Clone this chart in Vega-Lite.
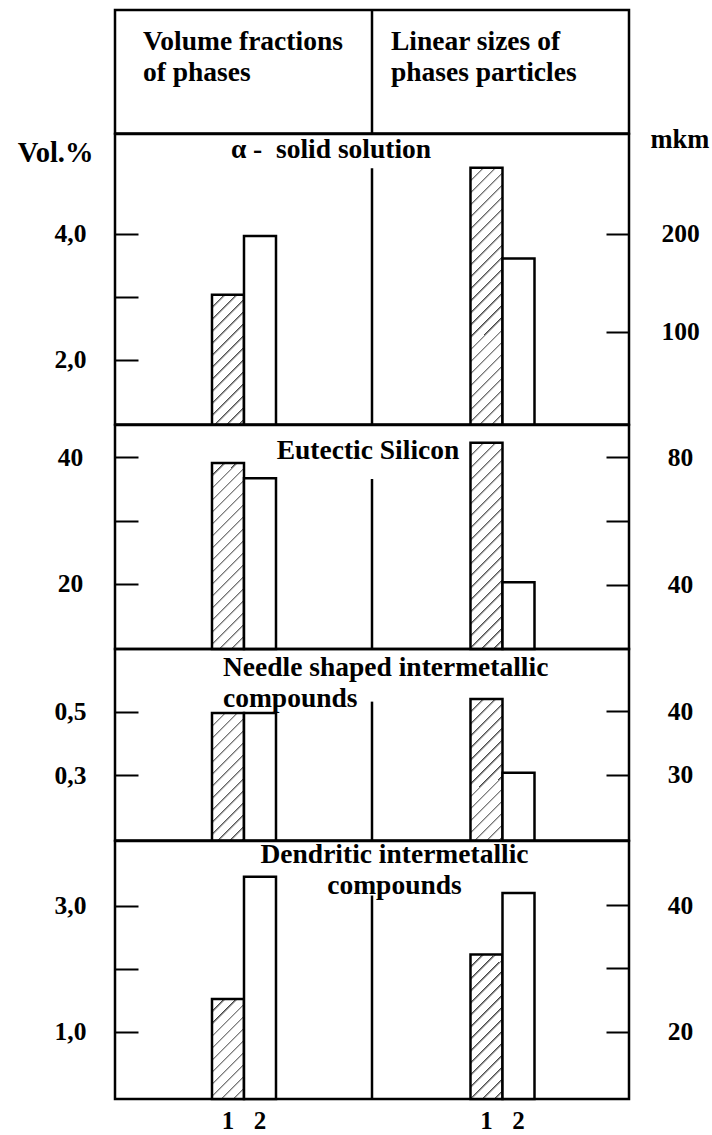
{
  "$schema": "https://vega.github.io/schema/vega-lite/v6.json",
  "padding": {"left": 15, "top": 7, "right": 0, "bottom": 0},
  "bounds": "flush",
  "spacing": 0,
  "params": [
    {"name": "hatch", "value": [
      {"offset": 0, "color": "#444"}, {"offset": 0.01, "color": "#fff"}, {"offset": 0.04, "color": "#fff"},
      {"offset": 0.04, "color": "#444"}, {"offset": 0.05, "color": "#fff"}, {"offset": 0.08, "color": "#fff"},
      {"offset": 0.08, "color": "#444"}, {"offset": 0.09, "color": "#fff"}, {"offset": 0.12, "color": "#fff"},
      {"offset": 0.12, "color": "#444"}, {"offset": 0.13, "color": "#fff"}, {"offset": 0.16, "color": "#fff"},
      {"offset": 0.16, "color": "#444"}, {"offset": 0.17, "color": "#fff"}, {"offset": 0.2, "color": "#fff"},
      {"offset": 0.2, "color": "#444"}, {"offset": 0.21, "color": "#fff"}, {"offset": 0.24, "color": "#fff"},
      {"offset": 0.24, "color": "#444"}, {"offset": 0.25, "color": "#fff"}, {"offset": 0.28, "color": "#fff"},
      {"offset": 0.28, "color": "#444"}, {"offset": 0.29, "color": "#fff"}, {"offset": 0.32, "color": "#fff"},
      {"offset": 0.32, "color": "#444"}, {"offset": 0.33, "color": "#fff"}, {"offset": 0.36, "color": "#fff"},
      {"offset": 0.36, "color": "#444"}, {"offset": 0.37, "color": "#fff"}, {"offset": 0.4, "color": "#fff"},
      {"offset": 0.4, "color": "#444"}, {"offset": 0.41, "color": "#fff"}, {"offset": 0.44, "color": "#fff"},
      {"offset": 0.44, "color": "#444"}, {"offset": 0.45, "color": "#fff"}, {"offset": 0.48, "color": "#fff"},
      {"offset": 0.48, "color": "#444"}, {"offset": 0.49, "color": "#fff"}, {"offset": 0.52, "color": "#fff"},
      {"offset": 0.52, "color": "#444"}, {"offset": 0.53, "color": "#fff"}, {"offset": 0.56, "color": "#fff"},
      {"offset": 0.56, "color": "#444"}, {"offset": 0.57, "color": "#fff"}, {"offset": 0.6, "color": "#fff"},
      {"offset": 0.6, "color": "#444"}, {"offset": 0.61, "color": "#fff"}, {"offset": 0.64, "color": "#fff"},
      {"offset": 0.64, "color": "#444"}, {"offset": 0.65, "color": "#fff"}, {"offset": 0.68, "color": "#fff"},
      {"offset": 0.68, "color": "#444"}, {"offset": 0.69, "color": "#fff"}, {"offset": 0.72, "color": "#fff"},
      {"offset": 0.72, "color": "#444"}, {"offset": 0.73, "color": "#fff"}, {"offset": 0.76, "color": "#fff"},
      {"offset": 0.76, "color": "#444"}, {"offset": 0.77, "color": "#fff"}, {"offset": 0.8, "color": "#fff"},
      {"offset": 0.8, "color": "#444"}, {"offset": 0.81, "color": "#fff"}, {"offset": 0.84, "color": "#fff"},
      {"offset": 0.84, "color": "#444"}, {"offset": 0.85, "color": "#fff"}, {"offset": 0.88, "color": "#fff"},
      {"offset": 0.88, "color": "#444"}, {"offset": 0.89, "color": "#fff"}, {"offset": 0.92, "color": "#fff"},
      {"offset": 0.92, "color": "#444"}, {"offset": 0.93, "color": "#fff"}, {"offset": 0.96, "color": "#fff"},
      {"offset": 0.96, "color": "#444"}, {"offset": 0.97, "color": "#fff"}, {"offset": 1, "color": "#fff"}
    ]}
  ],
  "datasets": {
    "bars": [
      {"phase": "alpha", "side": "L", "sample": "1", "value": 3.03},
      {"phase": "alpha", "side": "L", "sample": "2", "value": 3.96},
      {"phase": "alpha", "side": "R", "sample": "1", "value": 267.6},
      {"phase": "alpha", "side": "R", "sample": "2", "value": 174.8},
      {"phase": "eut", "side": "L", "sample": "1", "value": 39.1},
      {"phase": "eut", "side": "L", "sample": "2", "value": 36.7},
      {"phase": "eut", "side": "R", "sample": "1", "value": 84.6},
      {"phase": "eut", "side": "R", "sample": "2", "value": 40.7},
      {"phase": "needle", "side": "L", "sample": "1", "value": 0.496},
      {"phase": "needle", "side": "L", "sample": "2", "value": 0.496},
      {"phase": "needle", "side": "R", "sample": "1", "value": 41.9},
      {"phase": "needle", "side": "R", "sample": "2", "value": 30.3},
      {"phase": "dend", "side": "L", "sample": "1", "value": 1.52},
      {"phase": "dend", "side": "L", "sample": "2", "value": 3.46},
      {"phase": "dend", "side": "R", "sample": "1", "value": 32.2},
      {"phase": "dend", "side": "R", "sample": "2", "value": 41.9}
    ]
  },
  "vconcat": [
    {
      "width": 514, "height": 123.5,
      "layer": [
        {
          "data": {"values": [{"side": "L", "label": ["Volume fractions", "of phases"]}]},
          "mark": {"type": "text", "align": "left", "baseline": "alphabetic", "dx": 28, "dy": -21.3, "font": "Liberation Serif", "fontWeight": "bold", "fontSize": 27.5, "lineHeight": 31, "color": "black"},
          "encoding": {
            "x": {"field": "side", "type": "nominal", "bandPosition": 0, "scale": {"domain": ["L", "R"], "paddingInner": 0, "paddingOuter": 0}, "axis": null},
            "text": {"field": "label"}
          }
        },
        {
          "data": {"values": [{"side": "R", "label": ["Linear sizes of", "phases particles"]}]},
          "mark": {"type": "text", "align": "left", "baseline": "alphabetic", "dx": 19, "dy": -21.3, "font": "Liberation Serif", "fontWeight": "bold", "fontSize": 27.5, "lineHeight": 31, "color": "black"},
          "encoding": {
            "x": {"field": "side", "type": "nominal", "bandPosition": 0, "scale": {"domain": ["L", "R"], "paddingInner": 0, "paddingOuter": 0}, "axis": null},
            "text": {"field": "label"}
          }
        },
        {
          "data": {"values": [{}]},
          "mark": {"type": "rule", "stroke": "black", "strokeWidth": 2.5},
          "encoding": {
            "x": {"datum": "R", "type": "nominal", "bandPosition": 0, "scale": {"domain": ["L", "R"], "paddingInner": 0, "paddingOuter": 0}, "axis": null}
          }
        }
      ]
    },
    {
      "width": 514, "height": 290.5,
      "title": {"text": "α - \u00a0solid solution", "anchor": "middle", "dx": -41, "offset": -37.6},
      "layer": [
        {
          "data": {"name": "bars"},
          "transform": [{"filter": "datum.phase == 'alpha' && datum.side == 'L'"}],
          "mark": {"type": "bar", "stroke": "black", "strokeWidth": 2.5, "fill": {"expr": "datum.sample == '1' ? {gradient: 'linear', x1: 0, y1: 0, x2: 0.5365, y2: 2.1795, stops: hatch} : 'white'"}},
          "encoding": {
            "x": {"field": "side", "type": "nominal", "scale": {"domain": ["L", "R"], "paddingInner": 0.7524, "paddingOuter": 0.3704, "align": 0.5065}, "axis": null},
            "xOffset": {"field": "sample", "type": "nominal", "scale": {"domain": ["1", "2"], "paddingInner": 0, "paddingOuter": 0}},
            "y": {"field": "value", "type": "quantitative", "scale": {"domain": [0.97, 5.58], "zero": false, "nice": false},
              "axis": {"orient": "left", "values": [2, 3, 4], "labelExpr": "datum.value == 3 ? '' : replace(format(datum.value, '.1f'), '.', ',')", "title": "Vol.%", "titleFontSize": 28.5, "titleAngle": 0, "titleX": -22, "titleY": 27, "titleAlign": "right", "titleBaseline": "alphabetic"}},
            "y2": {"datum": 0.97}
          }
        },
        {
          "data": {"name": "bars"},
          "transform": [{"filter": "datum.phase == 'alpha' && datum.side == 'R'"}],
          "mark": {"type": "bar", "stroke": "black", "strokeWidth": 2.5, "fill": {"expr": "datum.sample == '1' ? {gradient: 'linear', x1: 0, y1: 0, x2: 0.1445, y2: 1.1558, stops: hatch} : 'white'"}},
          "encoding": {
            "x": {"field": "side", "type": "nominal", "scale": {"domain": ["L", "R"], "paddingInner": 0.7524, "paddingOuter": 0.3704, "align": 0.5065}, "axis": null},
            "xOffset": {"field": "sample", "type": "nominal", "scale": {"domain": ["1", "2"], "paddingInner": 0, "paddingOuter": 0}},
            "y": {"field": "value", "type": "quantitative", "scale": {"domain": [5, 302], "zero": false, "nice": false},
              "axis": {"orient": "right", "values": [100, 200], "format": "d", "title": "mkm", "titleAngle": 0, "titleX": 21, "titleY": 13, "titleAlign": "left", "titleBaseline": "alphabetic"}},
            "y2": {"datum": 5}
          }
        },
        {
          "data": {"values": [{}]},
          "mark": {"type": "rule", "stroke": "black", "strokeWidth": 2.5},
          "encoding": {
            "x": {"datum": "R", "type": "nominal", "bandPosition": 0, "scale": {"domain": ["L", "R"], "paddingInner": 0, "paddingOuter": 0}, "axis": null},
            "y": {"datum": 267, "type": "quantitative", "scale": {"domain": [5, 302], "zero": false, "nice": false}, "axis": null},
            "y2": {"datum": 5}
          }
        }
      ],
      "resolve": {"scale": {"x": "independent", "y": "independent"}, "axis": {"y": "independent"}}
    },
    {
      "width": 514, "height": 224,
      "title": {"text": "Eutectic Silicon", "anchor": "middle", "dx": -4, "offset": -39.6},
      "layer": [
        {
          "data": {"name": "bars"},
          "transform": [{"filter": "datum.phase == 'eut' && datum.side == 'L'"}],
          "mark": {"type": "bar", "stroke": "black", "strokeWidth": 2.5, "fill": {"expr": "datum.sample == '1' ? {gradient: 'linear', x1: 0, y1: 0, x2: 0.27, y2: 1.5692, stops: hatch} : 'white'"}},
          "encoding": {
            "x": {"field": "side", "type": "nominal", "scale": {"domain": ["L", "R"], "paddingInner": 0.7524, "paddingOuter": 0.3704, "align": 0.5065}, "axis": null},
            "xOffset": {"field": "sample", "type": "nominal", "scale": {"domain": ["1", "2"], "paddingInner": 0, "paddingOuter": 0}},
            "y": {"field": "value", "type": "quantitative", "scale": {"domain": [9.7, 45.1], "zero": false, "nice": false},
              "axis": {"orient": "left", "values": [20, 30, 40], "labelExpr": "datum.value == 30 ? '' : datum.label", "title": null}},
            "y2": {"datum": 9.7}
          }
        },
        {
          "data": {"name": "bars"},
          "transform": [{"filter": "datum.phase == 'eut' && datum.side == 'R'"}],
          "mark": {"type": "bar", "stroke": "black", "strokeWidth": 2.5, "fill": {"expr": "datum.sample == '1' ? {gradient: 'linear', x1: 0, y1: 0, x2: 0.2213, y2: 1.4244, stops: hatch} : 'white'"}},
          "encoding": {
            "x": {"field": "side", "type": "nominal", "scale": {"domain": ["L", "R"], "paddingInner": 0.7524, "paddingOuter": 0.3704, "align": 0.5065}, "axis": null},
            "xOffset": {"field": "sample", "type": "nominal", "scale": {"domain": ["1", "2"], "paddingInner": 0, "paddingOuter": 0}},
            "y": {"field": "value", "type": "quantitative", "scale": {"domain": [19.7, 90.2], "zero": false, "nice": false},
              "axis": {"orient": "right", "values": [40, 60, 80], "labelExpr": "datum.value == 60 ? '' : datum.label", "title": null}},
            "y2": {"datum": 19.7}
          }
        },
        {
          "data": {"values": [{}]},
          "mark": {"type": "rule", "stroke": "black", "strokeWidth": 2.5},
          "encoding": {
            "x": {"datum": "R", "type": "nominal", "bandPosition": 0, "scale": {"domain": ["L", "R"], "paddingInner": 0, "paddingOuter": 0}, "axis": null},
            "y": {"datum": 73.2, "type": "quantitative", "scale": {"domain": [19.7, 90.2], "zero": false, "nice": false}, "axis": null},
            "y2": {"datum": 19.7}
          }
        }
      ],
      "resolve": {"scale": {"x": "independent", "y": "independent"}, "axis": {"y": "independent"}}
    },
    {
      "width": 514, "height": 191.5,
      "title": {"text": ["Needle shaped intermetallic", "compounds"], "anchor": "start", "dx": 108, "offset": -63.9},
      "layer": [
        {
          "data": {"name": "bars"},
          "transform": [{"filter": "datum.phase == 'needle' && datum.side == 'L'"}],
          "mark": {"type": "bar", "stroke": "black", "strokeWidth": 2.5, "fill": {"expr": "datum.sample == '1' ? {gradient: 'linear', x1: 0, y1: 0, x2: 0.5606, y2: 2.2249, stops: hatch} : 'white'"}},
          "encoding": {
            "x": {"field": "side", "type": "nominal", "scale": {"domain": ["L", "R"], "paddingInner": 0.7524, "paddingOuter": 0.3704, "align": 0.5065}, "axis": null},
            "xOffset": {"field": "sample", "type": "nominal", "scale": {"domain": ["1", "2"], "paddingInner": 0, "paddingOuter": 0}},
            "y": {"field": "value", "type": "quantitative", "scale": {"domain": [0.096, 0.697], "zero": false, "nice": false},
              "axis": {"orient": "left", "values": [0.3, 0.5], "labelExpr": "replace(format(datum.value, '.1f'), '.', ',')", "title": null}},
            "y2": {"datum": 0.096}
          }
        },
        {
          "data": {"name": "bars"},
          "transform": [{"filter": "datum.phase == 'needle' && datum.side == 'R'"}],
          "mark": {"type": "bar", "stroke": "black", "strokeWidth": 2.5, "fill": {"expr": "datum.sample == '1' ? {gradient: 'linear', x1: 0, y1: 0, x2: 0.46, y2: 2.0268, stops: hatch} : 'white'"}},
          "encoding": {
            "x": {"field": "side", "type": "nominal", "scale": {"domain": ["L", "R"], "paddingInner": 0.7524, "paddingOuter": 0.3704, "align": 0.5065}, "axis": null},
            "xOffset": {"field": "sample", "type": "nominal", "scale": {"domain": ["1", "2"], "paddingInner": 0, "paddingOuter": 0}},
            "y": {"field": "value", "type": "quantitative", "scale": {"domain": [19.6, 49.8], "zero": false, "nice": false},
              "axis": {"orient": "right", "values": [30, 40], "title": null}},
            "y2": {"datum": 19.6}
          }
        },
        {
          "data": {"values": [{}]},
          "mark": {"type": "rule", "stroke": "black", "strokeWidth": 2.5},
          "encoding": {
            "x": {"datum": "R", "type": "nominal", "bandPosition": 0, "scale": {"domain": ["L", "R"], "paddingInner": 0, "paddingOuter": 0}, "axis": null},
            "y": {"datum": 41.5, "type": "quantitative", "scale": {"domain": [19.6, 49.8], "zero": false, "nice": false}, "axis": null},
            "y2": {"datum": 19.6}
          }
        }
      ],
      "resolve": {"scale": {"x": "independent", "y": "independent"}, "axis": {"y": "independent"}}
    },
    {
      "width": 514, "height": 258,
      "title": {"text": ["Dendritic intermetallic", "compounds"], "anchor": "middle", "dx": 22.5, "offset": -58.6},
      "layer": [
        {
          "data": {"name": "bars"},
          "transform": [{"filter": "datum.phase == 'dend' && datum.side == 'L'"}],
          "mark": {"type": "bar", "stroke": "black", "strokeWidth": 2.5, "fill": {"expr": "datum.sample == '1' ? {gradient: 'linear', x1: 0, y1: 0, x2: 0.8723, y2: 2.7259, stops: hatch} : 'white'"}},
          "encoding": {
            "x": {"field": "side", "type": "nominal", "scale": {"domain": ["L", "R"], "paddingInner": 0.7524, "paddingOuter": 0.3704, "align": 0.5065}, "axis": null},
            "xOffset": {"field": "sample", "type": "nominal", "scale": {"domain": ["1", "2"], "paddingInner": 0, "paddingOuter": 0}},
            "y": {"field": "value", "type": "quantitative", "scale": {"domain": [-0.07, 4.03], "zero": false, "nice": false},
              "axis": {"orient": "left", "values": [1, 2, 3], "labelExpr": "datum.value == 2 ? '' : replace(format(datum.value, '.1f'), '.', ',')", "title": null}},
            "y2": {"datum": -0.07}
          }
        },
        {
          "data": {"name": "bars"},
          "transform": [{"filter": "datum.phase == 'dend' && datum.side == 'R'"}],
          "mark": {"type": "bar", "stroke": "black", "strokeWidth": 2.5, "fill": {"expr": "datum.sample == '1' ? {gradient: 'linear', x1: 0, y1: 0, x2: 0.4361, y2: 1.9762, stops: hatch} : 'white'"}},
          "encoding": {
            "x": {"field": "side", "type": "nominal", "scale": {"domain": ["L", "R"], "paddingInner": 0.7524, "paddingOuter": 0.3704, "align": 0.5065}, "axis": null},
            "xOffset": {"field": "sample", "type": "nominal", "scale": {"domain": ["1", "2"], "paddingInner": 0, "paddingOuter": 0}},
            "y": {"field": "value", "type": "quantitative", "scale": {"domain": [9.4, 50.1], "zero": false, "nice": false},
              "axis": {"orient": "right", "values": [20, 30, 40], "labelExpr": "datum.value == 30 ? '' : datum.label", "title": null}},
            "y2": {"datum": 9.4}
          }
        },
        {
          "data": {"values": [{}]},
          "mark": {"type": "rule", "stroke": "black", "strokeWidth": 2.5},
          "encoding": {
            "x": {"datum": "R", "type": "nominal", "bandPosition": 0, "scale": {"domain": ["L", "R"], "paddingInner": 0, "paddingOuter": 0}, "axis": null},
            "y": {"datum": 41.5, "type": "quantitative", "scale": {"domain": [9.4, 50.1], "zero": false, "nice": false}, "axis": null},
            "y2": {"datum": 9.4}
          }
        }
      ],
      "resolve": {"scale": {"x": "independent", "y": "independent"}, "axis": {"y": "independent"}}
    },
    {
      "width": 514, "height": 30,
      "view": {"stroke": null},
      "data": {"name": "bars"},
      "transform": [{"filter": "datum.phase == 'dend'"}],
      "mark": {"type": "text", "baseline": "alphabetic", "dy": 15, "font": "Liberation Serif", "fontWeight": "bold", "fontSize": 25, "color": "black"},
      "encoding": {
        "x": {"field": "side", "type": "nominal", "scale": {"domain": ["L", "R"], "paddingInner": 0.7524, "paddingOuter": 0.3704, "align": 0.5065}, "axis": null},
        "xOffset": {"field": "sample", "type": "nominal", "scale": {"domain": ["1", "2"], "paddingInner": 0, "paddingOuter": 0}},
        "text": {"field": "sample"}
      }
    }
  ],
  "config": {
    "view": {"stroke": "black", "strokeWidth": 2.5},
    "axis": {"domain": false, "grid": false, "ticks": true, "tickSize": -23, "tickWidth": 2, "tickColor": "black",
      "labelFont": "Liberation Serif", "labelFontWeight": "bold", "labelFontSize": 25.5, "labelColor": "black", "labelAlign": "center", "labelBaseline": "middle",
      "titleFont": "Liberation Serif", "titleFontWeight": "bold", "titleFontSize": 26.5, "titleColor": "black"},
    "axisLeft": {"labelPadding": 68},
    "axisRight": {"labelPadding": 74},
    "title": {"font": "Liberation Serif", "fontSize": 27.5, "fontWeight": "bold", "color": "black", "frame": "group", "baseline": "alphabetic", "lineHeight": 31}
  }
}
